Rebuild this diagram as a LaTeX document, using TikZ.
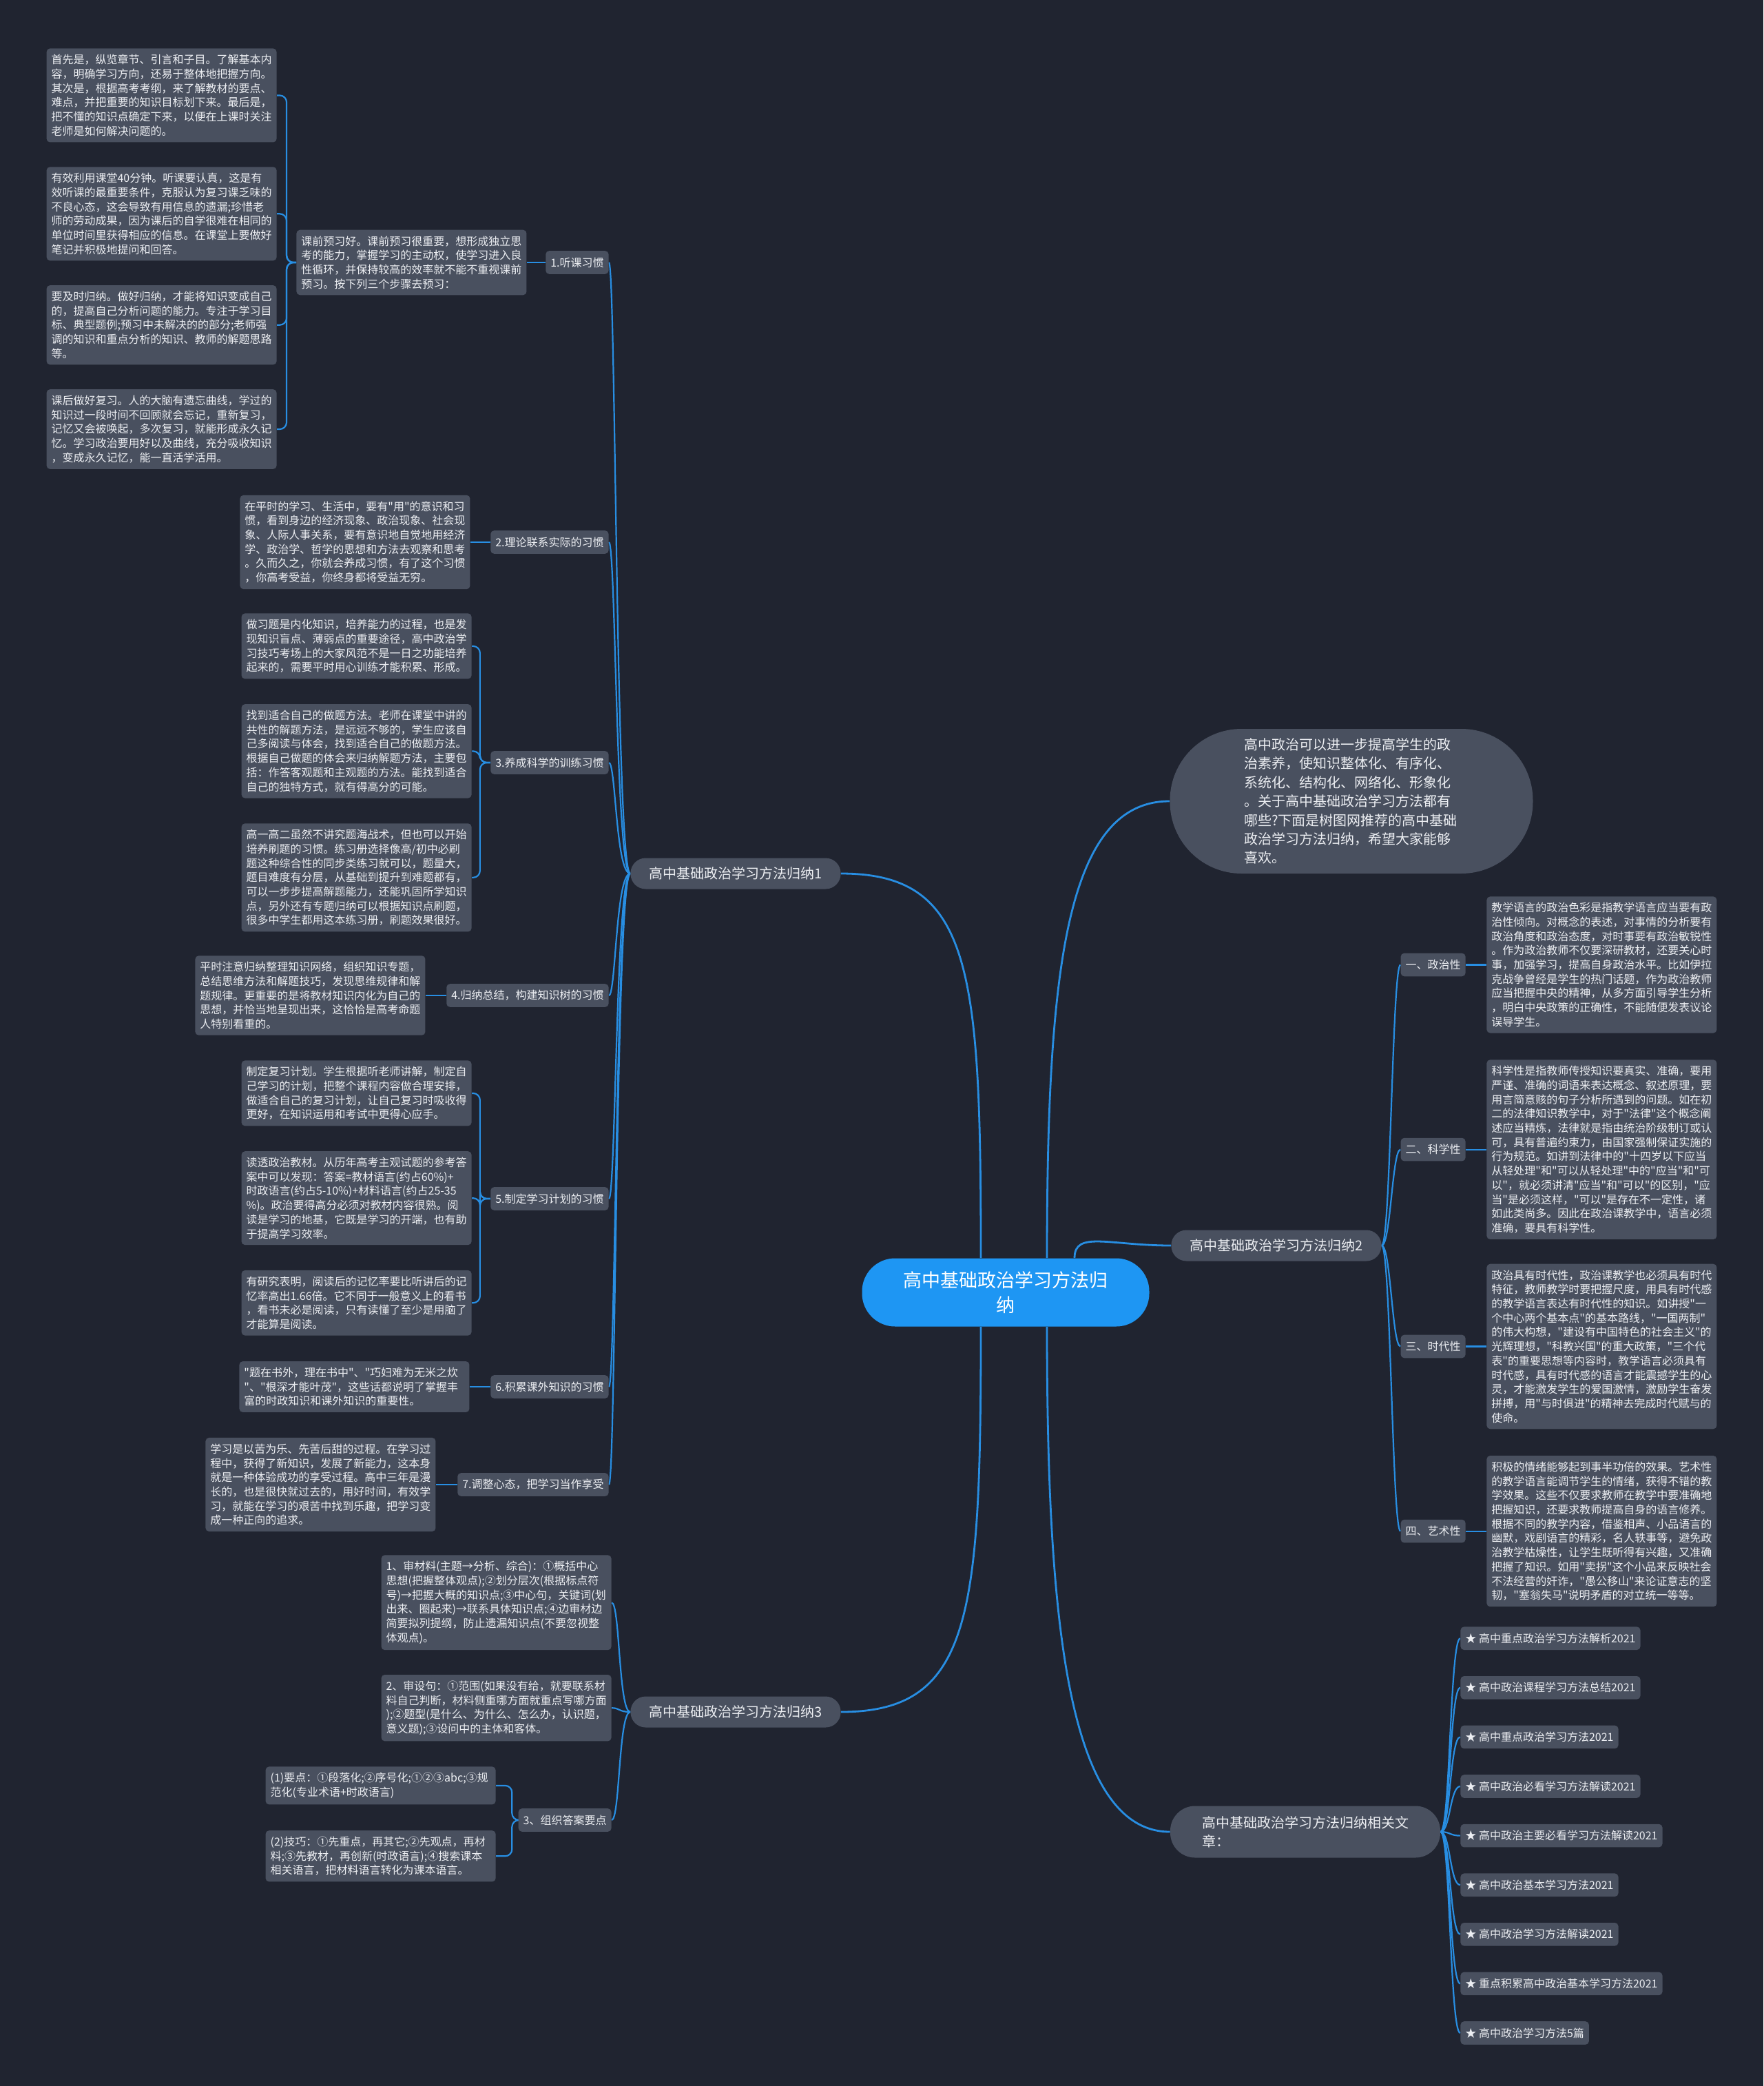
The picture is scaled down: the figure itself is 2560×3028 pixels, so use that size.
\documentclass[tikz,border=0pt]{standalone}
\usepackage{fontspec}
\usepackage{tikz}
\usetikzlibrary{positioning}
\newfontfamily\zhfont{Noto Sans CJK SC}
\definecolor{bgnavy}{RGB}{32,36,48}
\definecolor{boxgray}{RGB}{73,80,95}
\definecolor{lineblue}{RGB}{40,142,226}
\definecolor{rootblue}{RGB}{30,150,243}
\definecolor{textwhite}{RGB}{236,238,242}
\pgfdeclarelayer{bg}
\pgfsetlayers{bg,main}

\begin{document}
\begin{tikzpicture}[
    x=0.5pt, y=-0.5pt,
    box/.style={fill=boxgray, rounded corners=2.5pt, text=textwhite, font=\zhfont\fontsize{8}{10.35}\selectfont, inner xsep=3.5pt, inner ysep=4.4pt},
    leaf/.style={box, text width=160pt, align=left},
    tag/.style={box, minimum height=16.8pt},
    branch/.style={fill=boxgray, rounded corners=11pt, text=textwhite, font=\zhfont\fontsize{10}{13.7}\selectfont, inner xsep=13.5pt, minimum height=22.5pt},
    related/.style={branch, text width=150pt, align=left, minimum width=196pt, minimum height=37.5pt, rounded corners=18pt},
    intro/.style={branch, text width=156pt, align=left, minimum width=263.5pt, minimum height=105pt, rounded corners=52pt},
    root/.style={fill=rootblue, rounded corners=24pt, text=white, font=\zhfont\fontsize{13.5}{18.3}\selectfont, align=center, minimum width=208.5pt, minimum height=49.5pt},
    trunk/.style={draw=lineblue, line width=1.4pt},
    link/.style={draw=lineblue, line width=1.1pt},
    brace/.style={link, rounded corners=5pt},
  ]
  \useasboundingbox (0,0) rectangle (2560,3028);
  \node[root] (root) at (1460,1876) {高中基础政治学习方法归\\纳};
  \node[intro] (intro) at (1962,1163) {高中政治可以进一步提高学生的政\\治素养，使知识整体化、有序化、\\系统化、结构化、网络化、形象化\\。关于高中基础政治学习方法都有\\哪些?下面是树图网推荐的高中基础\\政治学习方法归纳，希望大家能够\\喜欢。};
  \node[branch] (b1) at (1068,1268) {高中基础政治学习方法归纳1};
  \node[branch] (b2) at (1853,1808) {高中基础政治学习方法归纳2};
  \node[branch] (b3) at (1068,2485) {高中基础政治学习方法归纳3};
  \node[related] (b4) at (1895,2659) {高中基础政治学习方法归纳相关文\\章：};

  \node[tag, anchor=east] (h1) at (884,381) {1.听课习惯};
  \node[leaf, left=13.5pt of h1] (h1a) {课前预习好。课前预习很重要，想形成独立思\\考的能力，掌握学习的主动权，使学习进入良\\性循环，并保持较高的效率就不能不重视课前\\预习。按下列三个步骤去预习：};
  \node[leaf, anchor=north east] (h1a1) at (402,70) {首先是，纵览章节、引言和子目。了解基本内\\容，明确学习方向，还易于整体地把握方向。\\其次是，根据高考考纲，来了解教材的要点、\\难点，并把重要的知识目标划下来。最后是，\\把不懂的知识点确定下来，以便在上课时关注\\老师是如何解决问题的。};
  \node[leaf, below=17.5pt of h1a1] (h1a2) {有效利用课堂40分钟。听课要认真，这是有\\效听课的最重要条件，克服认为复习课乏味的\\不良心态，这会导致有用信息的遗漏;珍惜老\\师的劳动成果，因为课后的自学很难在相同的\\单位时间里获得相应的信息。在课堂上要做好\\笔记并积极地提问和回答。};
  \node[leaf, below=17.5pt of h1a2] (h1a3) {要及时归纳。做好归纳，才能将知识变成自己\\的，提高自己分析问题的能力。专注于学习目\\标、典型题例;预习中未解决的的部分;老师强\\调的知识和重点分析的知识、教师的解题思路\\等。};
  \node[leaf, below=17.5pt of h1a3] (h1a4) {课后做好复习。人的大脑有遗忘曲线，学过的\\知识过一段时间不回顾就会忘记，重新复习，\\记忆又会被唤起，多次复习，就能形成永久记\\忆。学习政治要用好以及曲线，充分吸收知识\\，变成永久记忆，能一直活学活用。};

  \node[tag, anchor=east] (h2) at (884,787) {2.理论联系实际的习惯};
  \node[leaf, left=14.5pt of h2] (h2a) {在平时的学习、生活中，要有"用"的意识和习\\惯，看到身边的经济现象、政治现象、社会现\\象、人际人事关系，要有意识地自觉地用经济\\学、政治学、哲学的思想和方法去观察和思考\\。久而久之，你就会养成习惯，有了这个习惯\\，你高考受益，你终身都将受益无穷。};

  \node[tag, anchor=east] (h3) at (884,1107) {3.养成科学的训练习惯};
  \node[leaf, anchor=north east] (h3a) at (685,890) {做习题是内化知识，培养能力的过程，也是发\\现知识盲点、薄弱点的重要途径，高中政治学\\习技巧考场上的大家风范不是一日之功能培养\\起来的，需要平时用心训练才能积累、形成。};
  \node[leaf, below=18pt of h3a] (h3b) {找到适合自己的做题方法。老师在课堂中讲的\\共性的解题方法，是远远不够的，学生应该自\\己多阅读与体会，找到适合自己的做题方法。\\根据自己做题的体会来归纳解题方法，主要包\\括：作答客观题和主观题的方法。能找到适合\\自己的独特方式，就有得高分的可能。};
  \node[leaf, below=18pt of h3b] (h3c) {高一高二虽然不讲究题海战术，但也可以开始\\培养刷题的习惯。练习册选择像高/初中必刷\\题这种综合性的同步类练习就可以，题量大，\\题目难度有分层，从基础到提升到难题都有，\\可以一步步提高解题能力，还能巩固所学知识\\点，另外还有专题归纳可以根据知识点刷题，\\很多中学生都用这本练习册，刷题效果很好。};

  \node[tag, anchor=east] (h4) at (884,1445) {4.归纳总结，构建知识树的习惯};
  \node[leaf, left=15pt of h4] (h4a) {平时注意归纳整理知识网络，组织知识专题，\\总结思维方法和解题技巧，发现思维规律和解\\题规律。更重要的是将教材知识内化为自己的\\思想，并恰当地呈现出来，这恰恰是高考命题\\人特别看重的。};

  \node[tag, anchor=east] (h5) at (884,1740) {5.制定学习计划的习惯};
  \node[leaf, anchor=north east] (h5a) at (685,1539) {制定复习计划。学生根据听老师讲解，制定自\\己学习的计划，把整个课程内容做合理安排，\\做适合自己的复习计划，让自己复习时吸收得\\更好，在知识运用和考试中更得心应手。};
  \node[leaf, below=18pt of h5a] (h5b) {读透政治教材。从历年高考主观试题的参考答\\案中可以发现：答案=教材语言(约占60\%)+\\时政语言(约占5-10\%)+材料语言(约占25-35\\\%)。政治要得高分必须对教材内容很熟。阅\\读是学习的地基，它既是学习的开端，也有助\\于提高学习效率。};
  \node[leaf, below=18pt of h5b] (h5c) {有研究表明，阅读后的记忆率要比听讲后的记\\忆率高出1.66倍。它不同于一般意义上的看书\\，看书未必是阅读，只有读懂了至少是用脑了\\才能算是阅读。};

  \node[tag, anchor=east] (h6) at (884,2013) {6.积累课外知识的习惯};
  \node[leaf, left=15pt of h6] (h6a) {"题在书外，理在书中"、"巧妇难为无米之炊\\"、"根深才能叶茂"，这些话都说明了掌握丰\\富的时政知识和课外知识的重要性。};

  \node[tag, anchor=east] (h7) at (884,2155) {7.调整心态，把学习当作享受};
  \node[leaf, left=15.5pt of h7] (h7a) {学习是以苦为乐、先苦后甜的过程。在学习过\\程中，获得了新知识，发展了新能力，这本身\\就是一种体验成功的享受过程。高中三年是漫\\长的，也是很快就过去的，用好时间，有效学\\习，就能在学习的艰苦中找到乐趣，把学习变\\成一种正向的追求。};

  \node[leaf, anchor=north west] (r1a) at (2158,1301) {教学语言的政治色彩是指教学语言应当要有政\\治性倾向。对概念的表述，对事情的分析要有\\政治角度和政治态度，对时事要有政治敏锐性\\。作为政治教师不仅要深研教材，还要关心时\\事，加强学习，提高自身政治水平。比如伊拉\\克战争曾经是学生的热门话题，作为政治教师\\应当把握中央的精神，从多方面引导学生分析\\，明白中央政策的正确性，不能随便发表议论\\误导学生。};
  \node[leaf, below=19pt of r1a] (r2a) {科学性是指教师传授知识要真实、准确，要用\\严谨、准确的词语来表达概念、叙述原理，要\\用言简意赅的句子分析所遇到的问题。如在初\\二的法律知识教学中，对于"法律"这个概念阐\\述应当精炼，法律就是指由统治阶级制订或认\\可，具有普遍约束力，由国家强制保证实施的\\行为规范。如讲到法律中的"十四岁以下应当\\从轻处理"和"可以从轻处理"中的"应当"和"可\\以"，就必须讲清"应当"和"可以"的区别，"应\\当"是必须这样，"可以"是存在不一定性，诸\\如此类尚多。因此在政治课教学中，语言必须\\准确，要具有科学性。};
  \node[leaf, below=17.5pt of r2a] (r3a) {政治具有时代性，政治课教学也必须具有时代\\特征，教师教学时要把握尺度，用具有时代感\\的教学语言表达有时代性的知识。如讲授"一\\个中心两个基本点"的基本路线，"一国两制"\\的伟大构想，"建设有中国特色的社会主义"的\\光辉理想，"科教兴国"的重大政策，"三个代\\表"的重要思想等内容时，教学语言必须具有\\时代感，具有时代感的语言才能震撼学生的心\\灵，才能激发学生的爱国激情，激励学生奋发\\拼搏，用"与时俱进"的精神去完成时代赋与的\\使命。};
  \node[leaf, below=19pt of r3a] (r4a) {积极的情绪能够起到事半功倍的效果。艺术性\\的教学语言能调节学生的情绪，获得不错的教\\学效果。这些不仅要求教师在教学中要准确地\\把握知识，还要求教师提高自身的语言修养。\\根据不同的教学内容，借鉴相声、小品语言的\\幽默，戏剧语言的精彩，名人轶事等，避免政\\治教学枯燥性，让学生既听得有兴趣，又准确\\把握了知识。如用"卖拐"这个小品来反映社会\\不法经营的奸诈，"愚公移山"来论证意志的坚\\韧，"塞翁失马"说明矛盾的对立统一等等。};
  \node[tag, left=15pt of r1a] (r1) {一、政治性};
  \node[tag, left=15pt of r2a] (r2) {二、科学性};
  \node[tag, left=15pt of r3a] (r3) {三、时代性};
  \node[tag, left=15pt of r4a] (r4) {四、艺术性};

  \node[leaf, anchor=north east] (t1a) at (888,2257) {1、审材料(主题→分析、综合)：①概括中心\\思想(把握整体观点);②划分层次(根据标点符\\号)→把握大概的知识点;③中心句，关键词(划\\出来、圈起来)→联系具体知识点;④边审材边\\简要拟列提纲，防止遗漏知识点(不要忽视整\\体观点)。};
  \node[leaf, below=17.5pt of t1a] (t2a) {2、审设句：①范围(如果没有给，就要联系材\\料自己判断，材料侧重哪方面就重点写哪方面\\);②题型(是什么、为什么、怎么办，认识题，\\意义题);③设问中的主体和客体。};
  \node[tag, anchor=east] (t3) at (888,2642) {3、组织答案要点};
  \node[leaf, anchor=north east] (t3a) at (720,2564) {(1)要点：①段落化;②序号化;①②③abc;③规\\范化(专业术语+时政语言)};
  \node[leaf, below=18.5pt of t3a] (t3b) {(2)技巧：①先重点，再其它;②先观点，再材\\料;③先教材，再创新(时政语言);④搜索课本\\相关语言，把材料语言转化为课本语言。};

  \node[tag, anchor=north west] (lk1) at (2120,2361) {★ 高中重点政治学习方法解析2021};
  \node[tag, below=18.6pt of lk1.south west, anchor=north west] (lk2) {★ 高中政治课程学习方法总结2021};
  \node[tag, below=18.6pt of lk2.south west, anchor=north west] (lk3) {★ 高中重点政治学习方法2021};
  \node[tag, below=18.6pt of lk3.south west, anchor=north west] (lk4) {★ 高中政治必看学习方法解读2021};
  \node[tag, below=18.6pt of lk4.south west, anchor=north west] (lk5) {★ 高中政治主要必看学习方法解读2021};
  \node[tag, below=18.6pt of lk5.south west, anchor=north west] (lk6) {★ 高中政治基本学习方法2021};
  \node[tag, below=18.6pt of lk6.south west, anchor=north west] (lk7) {★ 高中政治学习方法解读2021};
  \node[tag, below=18.6pt of lk7.south west, anchor=north west] (lk8) {★ 重点积累高中政治基本学习方法2021};
  \node[tag, below=18.6pt of lk8.south west, anchor=north west] (lk9) {★ 高中政治学习方法5篇};

  \begin{pgfonlayer}{bg}
    \fill[bgnavy] (0,0) rectangle (2560,3028);
    \draw[trunk] ([xshift=-18pt]root.north) .. controls +(0,-420) and +(190,0) .. (b1.east);
    \draw[trunk] ([xshift=-18pt]root.south) .. controls +(0,420) and +(190,0) .. (b3.east);
    \draw[trunk] ([xshift=30pt]root.north) .. controls +(0,-420) and +(-150,0) .. (intro.west);
    \draw[trunk] ([xshift=50pt]root.north) .. controls +(0,-40) and +(-90,0) .. (b2.west);
    \draw[trunk] ([xshift=30pt]root.south) .. controls +(0,420) and +(-150,0) .. (b4.west);

    \draw[link] (b1.west) .. controls +(-21,0) and +(10,0) .. (h1.east);
    \draw[link] (b1.west) .. controls +(-21,0) and +(10,0) .. (h2.east);
    \draw[link] (b1.west) .. controls +(-21,0) and +(10,0) .. (h3.east);
    \draw[link] (b1.west) .. controls +(-21,0) and +(10,0) .. (h4.east);
    \draw[link] (b1.west) .. controls +(-21,0) and +(10,0) .. (h5.east);
    \draw[link] (b1.west) .. controls +(-21,0) and +(10,0) .. (h6.east);
    \draw[link] (b1.west) .. controls +(-21,0) and +(10,0) .. (h7.east);
    \draw[link] (h1.west) -- (h1a.east);
    \draw[brace] (h1a.west) -- ++(-14,0) |- (h1a1.east);
    \draw[brace] (h1a.west) -- ++(-14,0) |- (h1a2.east);
    \draw[brace] (h1a.west) -- ++(-14,0) |- (h1a3.east);
    \draw[brace] (h1a.west) -- ++(-14,0) |- (h1a4.east);
    \draw[link] (h2.west) -- (h2a.east);
    \draw[brace] (h3.west) -- ++(-15,0) |- (h3a.east);
    \draw[brace] (h3.west) -- ++(-15,0) |- (h3b.east);
    \draw[brace] (h3.west) -- ++(-15,0) |- (h3c.east);
    \draw[link] (h4.west) -- (h4a.east);
    \draw[brace] (h5.west) -- ++(-15,0) |- (h5a.east);
    \draw[brace] (h5.west) -- ++(-15,0) |- (h5b.east);
    \draw[brace] (h5.west) -- ++(-15,0) |- (h5c.east);
    \draw[link] (h6.west) -- (h6a.east);
    \draw[link] (h7.west) -- (h7a.east);

    \draw[link] (b2.east) .. controls +(13,0) and +(-12,0) .. (r1.west);
    \draw[link] (b2.east) .. controls +(13,0) and +(-12,0) .. (r2.west);
    \draw[link] (b2.east) .. controls +(13,0) and +(-12,0) .. (r3.west);
    \draw[link] (b2.east) .. controls +(13,0) and +(-12,0) .. (r4.west);
    \draw[link] (r1.east) -- (r1a.west);
    \draw[link] (r2.east) -- (r2a.west);
    \draw[link] (r3.east) -- (r3a.west);
    \draw[link] (r4.east) -- (r4a.west);

    \draw[link] (b3.west) .. controls +(-17,0) and +(12,0) .. (t1a.east);
    \draw[link] (b3.west) .. controls +(-17,0) and +(12,0) .. (t2a.east);
    \draw[link] (b3.west) .. controls +(-17,0) and +(12,0) .. (t3.east);
    \draw[brace] (t3.west) -- ++(-9,0) |- (t3a.east);
    \draw[brace] (t3.west) -- ++(-9,0) |- (t3b.east);

    \draw[link] (b4.east) .. controls +(14,0) and +(-15,0) .. (lk1.west);
    \draw[link] (b4.east) .. controls +(14,0) and +(-15,0) .. (lk2.west);
    \draw[link] (b4.east) .. controls +(14,0) and +(-15,0) .. (lk3.west);
    \draw[link] (b4.east) .. controls +(14,0) and +(-15,0) .. (lk4.west);
    \draw[link] (b4.east) .. controls +(14,0) and +(-15,0) .. (lk5.west);
    \draw[link] (b4.east) .. controls +(14,0) and +(-15,0) .. (lk6.west);
    \draw[link] (b4.east) .. controls +(14,0) and +(-15,0) .. (lk7.west);
    \draw[link] (b4.east) .. controls +(14,0) and +(-15,0) .. (lk8.west);
    \draw[link] (b4.east) .. controls +(14,0) and +(-15,0) .. (lk9.west);
  \end{pgfonlayer}
\end{tikzpicture}
\end{document}
